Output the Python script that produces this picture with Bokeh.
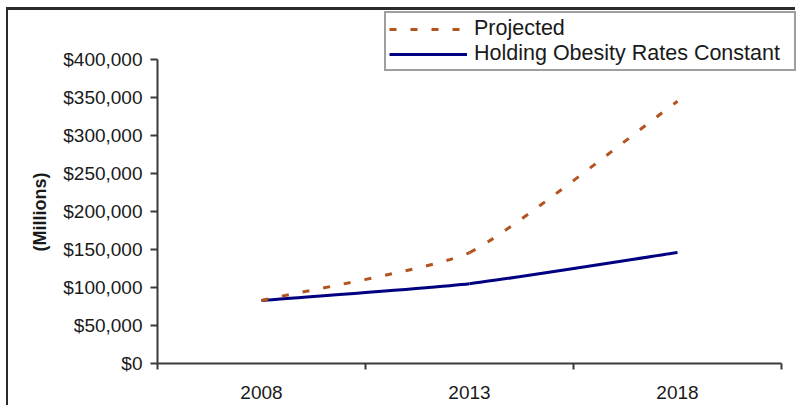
from bokeh.plotting import figure
from bokeh.models import (Range1d, FixedTicker, Legend, LegendItem, ColumnDataSource, Title)
from bokeh.embed import file_html
from bokeh.resources import INLINE

# ---- data ----
years = ["2008", "2013", "2018"]
projected = [83000, 146000, 345000]
constant_rates = [83000, 105000, 146000]
y_ticks = [0, 50000, 100000, 150000, 200000, 250000, 300000, 350000, 400000]
y_tick_labels = ["$0", "$50,000", "$100,000", "$150,000", "$200,000",
                 "$250,000", "$300,000", "$350,000", "$400,000"]
series_names = ["Projected", "Holding Obesity Rates Constant"]
y_title = "(Millions)"

# ---- geometry (canvas sits inside a framed box offset by OFF_X, OFF_Y) ----
OFF_X, OFF_Y = 8, 10
W, H = 797 - OFF_X, 408 - OFF_Y
B_LEFT, B_BOTTOM = 157 - OFF_X, 45
PLOT_W = 624          # width covered by the three year slots
PLOT_H = 304          # height covered by $0 .. $400,000
Y_MAX = 400000
FRAME_W = W - B_LEFT
FRAME_H = H - B_BOTTOM
n = len(years)
x_end = 0.5 + n * FRAME_W / PLOT_W
y_end = Y_MAX * FRAME_H / PLOT_H

FONT = "Liberation Sans"
TEXT = "#1a1a1a"
AXIS = "#3a3a3a"

xs = list(range(1, n + 1))

p = figure(width=W, height=H, output_backend="svg", toolbar_location=None,
           x_range=Range1d(0.5, x_end), y_range=Range1d(0, y_end),
           min_border_left=B_LEFT, min_border_right=0,
           min_border_top=0, min_border_bottom=B_BOTTOM)
p.outline_line_color = None
p.xgrid.visible = False
p.ygrid.visible = False
p.background_fill_color = "white"
p.border_fill_color = "white"
p.margin = (OFF_Y - 3, 0, 0, OFF_X - 2)
p.styles = {"border-left": "2px solid #2b2b2b", "border-top": "3px solid #2b2b2b"}

# px per data unit, used to smooth the curves evenly on screen
sx = PLOT_W / n
sy = PLOT_H / Y_MAX


def smooth_segments(x, y, tension=1 / 6):
    """Bezier control points for a smoothed line through (x, y)."""
    m = len(x)
    px = [v * sx for v in x]
    py = [v * sy for v in y]
    tangents = []
    for i in range(m):
        a = max(i - 1, 0)
        b = min(i + 1, m - 1)
        dx, dy = px[b] - px[a], py[b] - py[a]
        norm = (dx * dx + dy * dy) ** 0.5 or 1.0
        tangents.append((dx / norm, dy / norm))
    seg = dict(x0=[], y0=[], x1=[], y1=[], cx0=[], cy0=[], cx1=[], cy1=[])
    for i in range(m - 1):
        length = ((px[i + 1] - px[i]) ** 2 + (py[i + 1] - py[i]) ** 2) ** 0.5
        h = tension * length
        seg["x0"].append(x[i]); seg["y0"].append(y[i])
        seg["x1"].append(x[i + 1]); seg["y1"].append(y[i + 1])
        seg["cx0"].append((px[i] + tangents[i][0] * h) / sx)
        seg["cy0"].append((py[i] + tangents[i][1] * h) / sy)
        seg["cx1"].append((px[i + 1] - tangents[i + 1][0] * h) / sx)
        seg["cy1"].append((py[i + 1] - tangents[i + 1][1] * h) / sy)
    return ColumnDataSource(seg)


proj_style = dict(line_color="#b3541e", line_width=3, line_dash="7 14")
const_style = dict(line_color="#000080", line_width=3)

p.bezier(x0="x0", y0="y0", x1="x1", y1="y1", cx0="cx0", cy0="cy0",
         cx1="cx1", cy1="cy1", source=smooth_segments(xs, constant_rates), **const_style)
p.bezier(x0="x0", y0="y0", x1="x1", y1="y1", cx0="cx0", cy0="cy0",
         cx1="cx1", cy1="cy1", source=smooth_segments(xs, projected), **proj_style)

# legend swatches (a single missing point, so nothing shows in the plot area)
nan = float("nan")
r_proj = p.line(x=[nan], y=[nan], **proj_style)
r_const = p.line(x=[nan], y=[nan], **const_style)

# ---- axes ----
xa = p.xaxis[0]
xa.bounds = (0.5, n + 0.5)
xa.ticker = FixedTicker(ticks=xs, minor_ticks=[v - 0.5 for v in xs] + [xs[-1] + 0.5])
xa.major_label_overrides = {x: lab for x, lab in zip(xs, years)}
xa.major_tick_out = 0
xa.major_tick_in = 0
xa.minor_tick_out = 6
xa.minor_tick_in = 0
xa.minor_tick_line_color = AXIS
xa.minor_tick_line_width = 2
xa.axis_line_color = AXIS
xa.axis_line_width = 2
xa.major_label_standoff = 16
xa.major_label_text_font = FONT
xa.major_label_text_font_size = "19px"
xa.major_label_text_color = TEXT

ya = p.yaxis[0]
ya.bounds = (0, Y_MAX)
ya.ticker = FixedTicker(ticks=y_ticks, minor_ticks=[])
ya.major_label_overrides = {t: lab for t, lab in zip(y_ticks, y_tick_labels)}
ya.major_tick_out = 7
ya.major_tick_in = 0
ya.major_tick_line_color = AXIS
ya.major_tick_line_width = 2
ya.axis_line_color = AXIS
ya.axis_line_width = 2
ya.major_label_standoff = 8
ya.major_label_text_font = FONT
ya.major_label_text_font_size = "19px"
ya.major_label_text_color = TEXT

# y title, centred on the $0..$400,000 span rather than the whole frame
p.add_layout(Title(text=y_title, align="left", offset=112, standoff=21,
                   text_font=FONT, text_font_size="18px", text_font_style="bold",
                   text_color=TEXT), "left")

# ---- legend ----
legend = Legend(items=[LegendItem(label=series_names[0], renderers=[r_proj]),
                       LegendItem(label=series_names[1], renderers=[r_const])],
                location=(384 - 157, FRAME_H - (71 - OFF_Y)), orientation="vertical",
                glyph_width=78, glyph_height=20, label_height=20, label_width=317,
                label_standoff=7, spacing=0, padding=3, margin=0,
                border_line_color="#404040", border_line_width=2,
                background_fill_color="white", background_fill_alpha=1,
                label_text_font=FONT, label_text_font_size="21.5px",
                label_text_color=TEXT)
p.add_layout(legend, "center")

open("out.html", "w").write(file_html(p, INLINE))
